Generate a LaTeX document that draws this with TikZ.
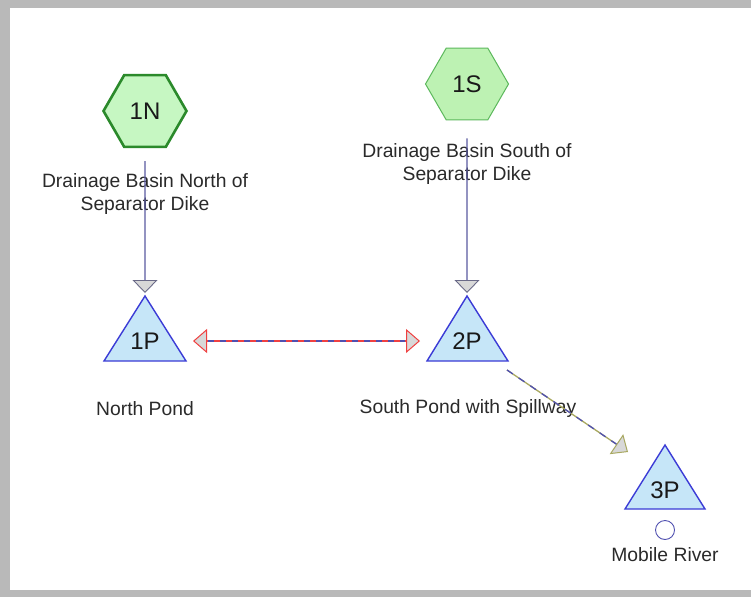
\documentclass[tikz,border=0pt]{standalone}
\usepackage{fontspec}
\setmainfont{Liberation Sans}
\usetikzlibrary{arrows.meta,shapes.geometric}
\definecolor{txt}{HTML}{2A2A2A}
\definecolor{hexNfill}{HTML}{C6F7C2}
\definecolor{hexNdraw}{HTML}{2B8A2B}
\definecolor{hexSfill}{HTML}{BDF2B3}
\definecolor{hexSdraw}{HTML}{5CB85C}
\definecolor{pondfill}{HTML}{C6E6F8}
\definecolor{ponddraw}{HTML}{3B3BD6}
\definecolor{flowline}{HTML}{5A5AA0}
\definecolor{tipdraw}{HTML}{6A6A88}
\definecolor{tipfill}{HTML}{D8D8D8}
\definecolor{linkred}{HTML}{F04040}
\definecolor{linkblue}{HTML}{5050B0}
\definecolor{olive2}{HTML}{A8A860}
\tikzset{
  hexbase/.style={regular polygon, regular polygon sides=6, minimum size=83pt, inner sep=0pt,
    font=\fontsize{24}{24}\selectfont, text=black!90},
  hexN/.style={hexbase, fill=hexNfill, draw=hexNdraw, line width=2.6pt},
  hexS/.style={hexbase, fill=hexSfill, draw=hexSdraw, line width=1pt},
  pondtri/.style={fill=pondfill, draw=ponddraw, line width=1.4pt, line join=miter},
  pondlbl/.style={font=\fontsize{24}{24}\selectfont, text=black!90, inner sep=0pt},
  lbl/.style={font=\fontsize{19.3}{23}\selectfont, text=txt, align=center, inner sep=0pt},
  inflow/.style={draw=flowline, line width=1.1pt,
    -{Triangle[length=13pt,width=25pt,fill=tipfill,color=tipdraw,line width=0.9pt]}},
  tipR/.tip={Triangle[length=14pt,width=24pt,fill=tipfill,color=linkred,line width=1pt]},
  tipO/.tip={Triangle[length=14pt,width=24pt,fill=tipfill,color=olive2,line width=1pt]},
}
\begin{document}
\begin{tikzpicture}[x=1pt,y=-1pt]
\useasboundingbox (0,0) rectangle (751,597);
\fill[gray!55] (0,0) rectangle (751,597);
\fill[white] (10,8) rectangle (751,590);

% basins
\node[hexN] (1N) at (145,111) {1N};
\node[hexS] (1S) at (467,84) {1S};
\node[lbl] (lN) at (145,194) {Drainage Basin North of\\Separator Dike};
\node[lbl] (lS) at (467,164) {Drainage Basin South of\\Separator Dike};

% ponds
\draw[pondtri] (104,361) -- (145,296) -- (186,361) -- cycle;
\draw[pondtri] (427,361) -- (467,296) -- (508,361) -- cycle;
\draw[pondtri] (625,509) -- (665,445) -- (705,509) -- cycle;
\node[pondlbl] (1P) at (145,341) {1P};
\node[pondlbl] (2P) at (467,341) {2P};
\node[pondlbl] (3P) at (665,490) {3P};
\node[lbl] (lP1) at (145,409) {North Pond};
\node[lbl] (lP2) at (468,409) {South Pond with Spillway};
\node[draw=linkblue, fill=white, circle, minimum size=19pt, inner sep=0pt, line width=0.9pt] (river) at (665,530) {};
\node[lbl] (lP3) at (665,555) {Mobile River};

% connector end points
\coordinate (in1P) at (145,293);
\coordinate (in2P) at (467,293);
\coordinate (1Pr) at (193,341);
\coordinate (2Pl) at (420,341);
\coordinate (2Pout) at (507,370);
\coordinate (in3P) at (628,452);

% inflows
\draw[inflow, shorten <=13pt] (1N.south) -- (in1P);
\draw[inflow, shorten <=18pt] (1S.south) -- (in2P);

% two-way link
\draw[draw=linkred, line width=1.4pt, tipR-tipR] (1Pr) -- (2Pl);
\draw[draw=linkblue, line width=1.4pt, dash pattern=on 6pt off 6pt, shorten <=15pt, shorten >=15pt] (1Pr) -- (2Pl);

% outflow
\draw[draw=olive2, line width=1.3pt, -tipO] (2Pout) -- (in3P);
\draw[draw=linkblue, line width=1.3pt, dash pattern=on 7pt off 7pt, shorten >=14pt] (2Pout) -- (in3P);
\end{tikzpicture}
\end{document}
